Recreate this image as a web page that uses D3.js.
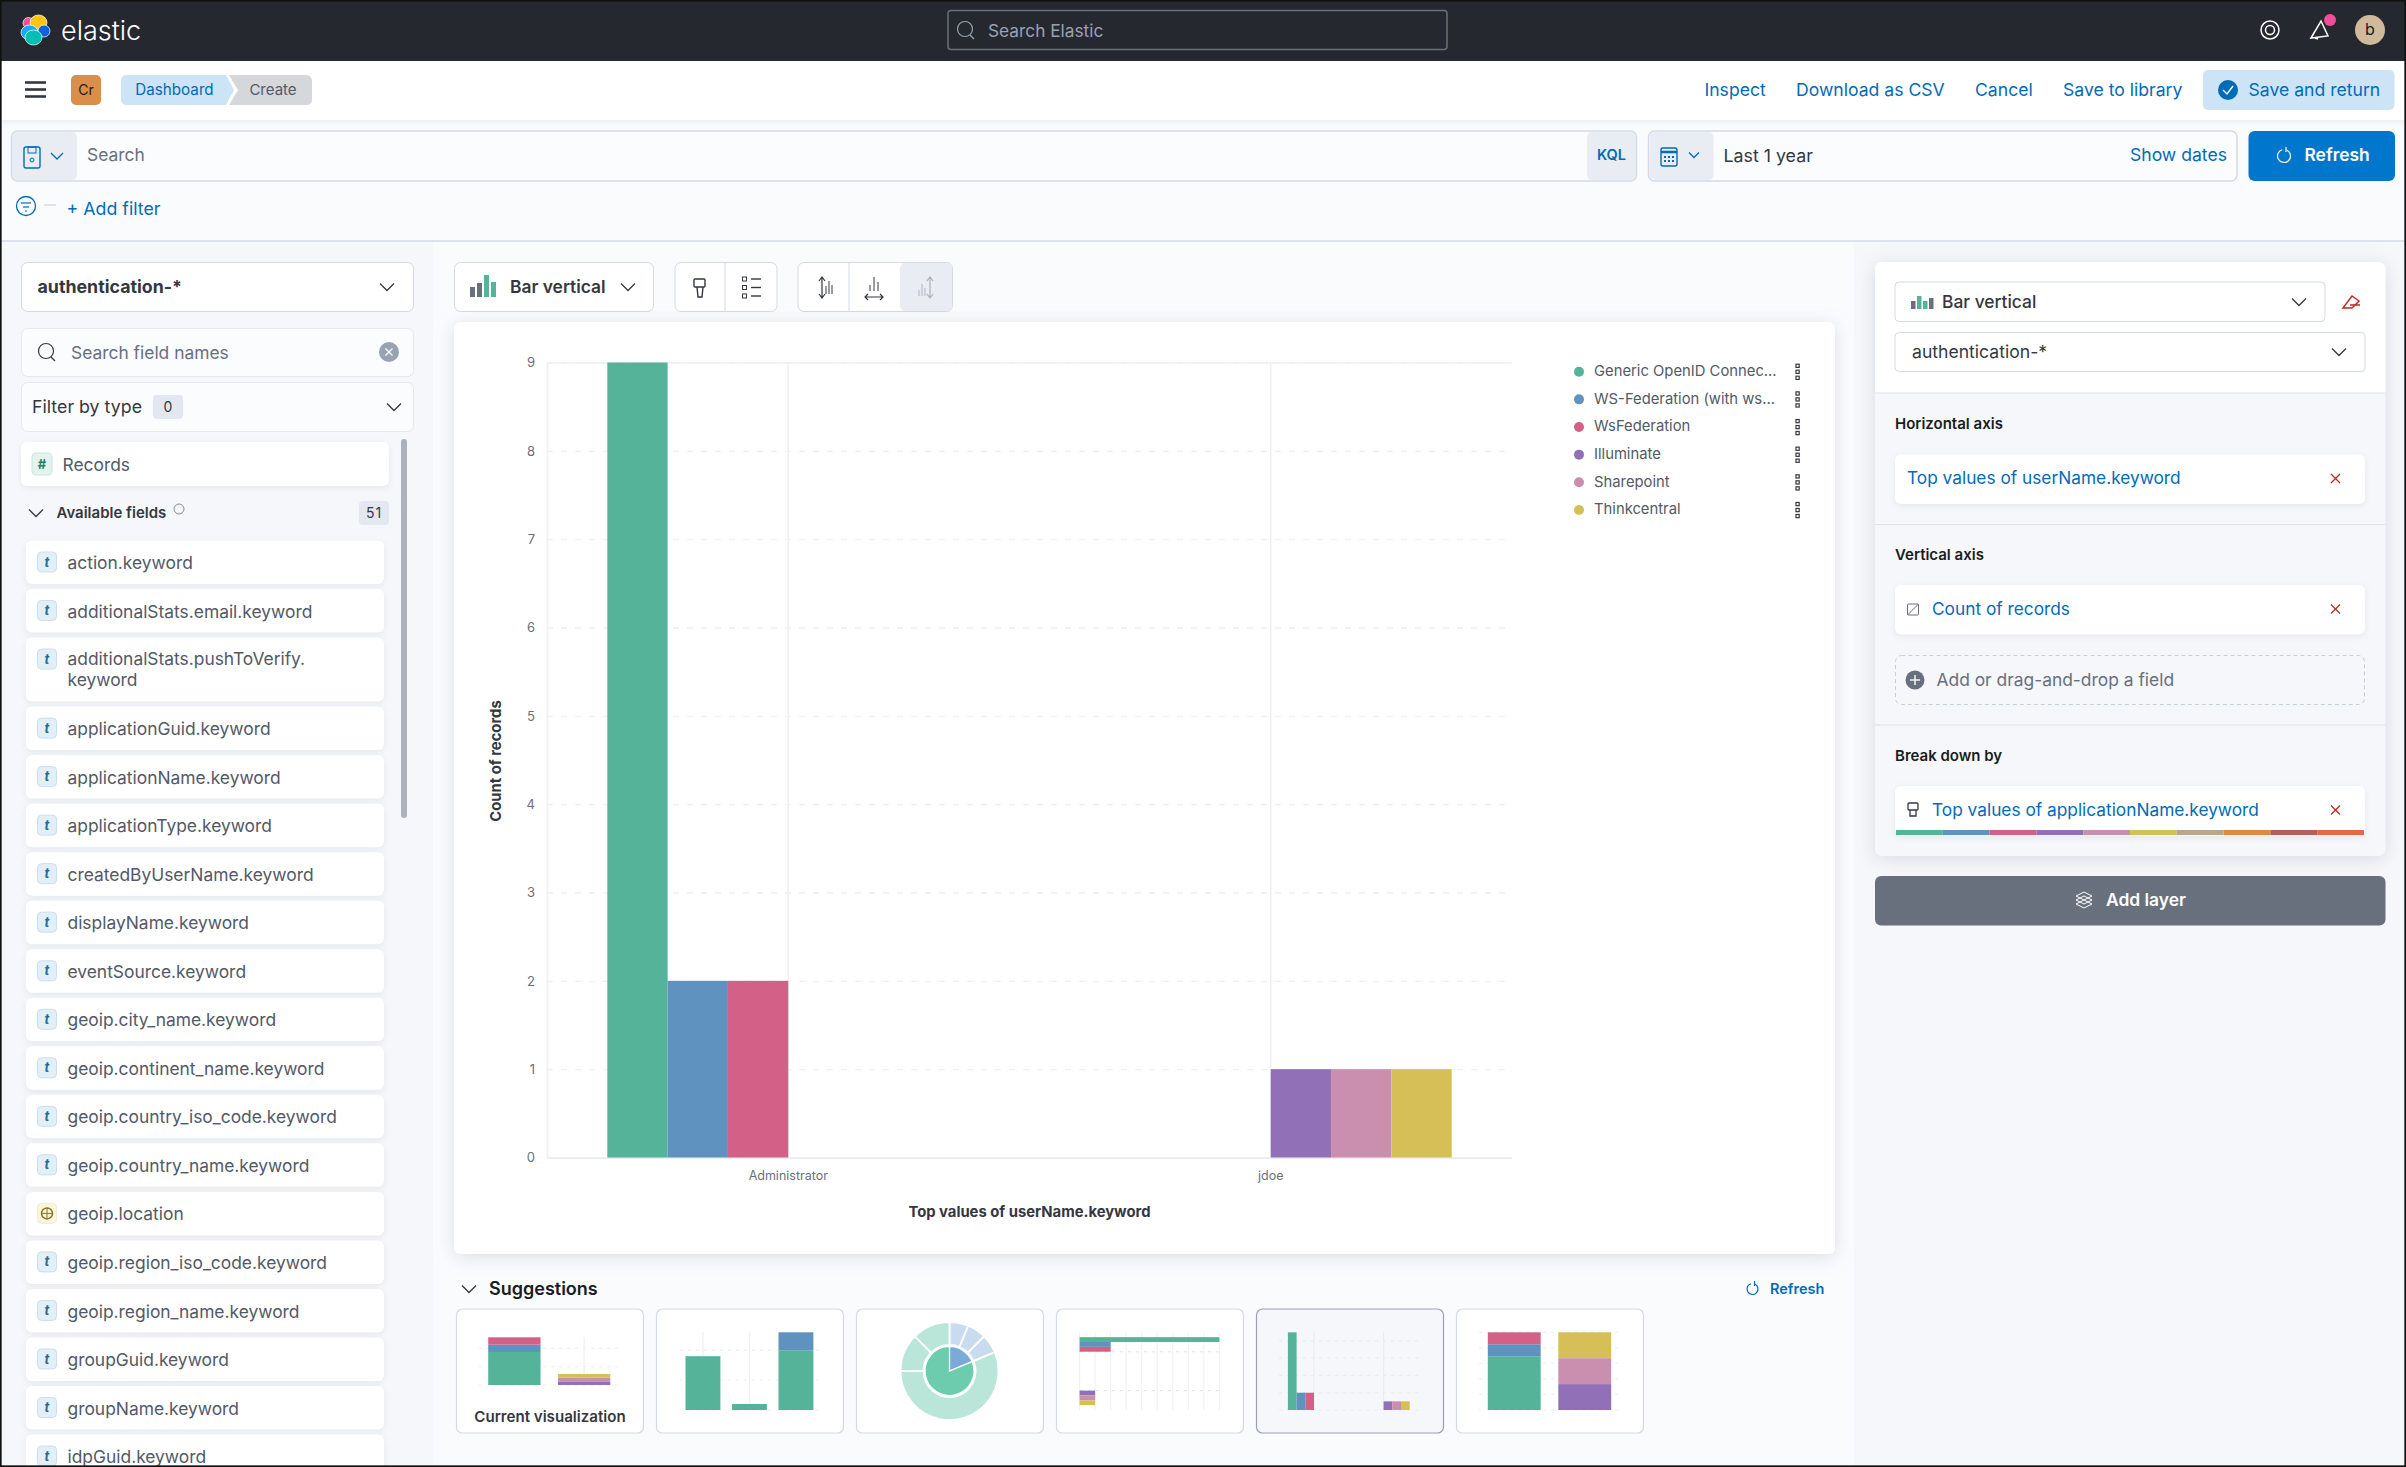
<!DOCTYPE html>
<html>
<head>
<meta charset="utf-8">
<title>Lens - Bar vertical</title>
<script src="https://cdnjs.cloudflare.com/ajax/libs/d3/7.8.5/d3.min.js"></script>
<style>
  html, body { margin: 0; padding: 0; background: #fafbfd; overflow: hidden; }
  svg { display: block; font-family: Inter, "Noto Sans", sans-serif; }
  .shadow { filter: drop-shadow(0 2px 3px rgba(100,110,130,0.11)); }
  .shadowBig { filter: drop-shadow(0 3px 9px rgba(100,110,130,0.2)); }
</style>
</head>
<body>
<svg id="page" width="2406" height="1467"></svg>
<script>
// chart data
const users = ["Administrator", "jdoe"];
const seriesNames = ["Generic OpenID Connec...", "WS-Federation (with ws...", "WsFederation", "Illuminate", "Sharepoint", "Thinkcentral"];
const seriesColors = ["#54B399", "#6092C0", "#D36086", "#9170B8", "#CA8EAE", "#D6BF57"];
const administratorValues = [9, 2, 2, 0, 0, 0];
const jdoeValues = [0, 0, 0, 1, 1, 1];
const yTicks = [0, 1, 2, 3, 4, 5, 6, 7, 8, 9];
const paletteStripe = ["#54B399", "#6092C0", "#D36086", "#9170B8", "#CA8EAE", "#D6BF57", "#B9A888", "#DA8B45", "#AA6556", "#E7664C"];

// suggestion thumbnails
const thumbBarsGreen = [9, 1, 10];
const thumbBarsBlue = [0, 0, 3];
const donutInner = [3, 13];
const donutOuter = [1, 1, 1, 9, 2, 2];

// side panel
const fieldNames = ["action.keyword", "additionalStats.email.keyword", "additionalStats.pushToVerify.keyword",
  "applicationGuid.keyword", "applicationName.keyword", "applicationType.keyword", "createdByUserName.keyword",
  "displayName.keyword", "eventSource.keyword", "geoip.city_name.keyword", "geoip.continent_name.keyword",
  "geoip.country_iso_code.keyword", "geoip.country_name.keyword", "geoip.location", "geoip.region_iso_code.keyword",
  "geoip.region_name.keyword", "groupGuid.keyword", "groupName.keyword", "idpGuid.keyword"];

const BLUE = "#006BB8", DARK = "#343741", GREY = "#69707D", LINE = "#D3DAE6";
const svg = d3.select("#page");
const rows = [administratorValues, jdoeValues];

function txt(g, x, y, s, o = {}) {
  return g.append("text").attr("x", x).attr("y", y + 1).attr("dy", "0.35em")
    .attr("font-size", o.size || 17.4).attr("font-weight", o.weight || 400)
    .attr("fill", o.fill || DARK).attr("text-anchor", o.anchor || "start").text(s);
}
function box(g, x, y, w, h, o = {}) {
  return g.append("rect").attr("x", x).attr("y", y).attr("width", w).attr("height", h)
    .attr("rx", o.r === undefined ? 6 : o.r).attr("fill", o.fill || "#fff")
    .attr("stroke", o.stroke || "none").attr("stroke-width", o.sw || 1)
    .attr("stroke-dasharray", o.dash || null).attr("class", o.cls || null);
}
function line(g, x1, y1, x2, y2, color, w = 1, dash = null) {
  return g.append("line").attr("x1", x1).attr("y1", y1).attr("x2", x2).attr("y2", y2)
    .attr("stroke", color).attr("stroke-width", w).attr("stroke-dasharray", dash);
}
function chevron(g, x, y, color = DARK, s = 7) {
  g.append("path").attr("d", `M${x - s},${y - s / 2}L${x},${y + s / 2}L${x + s},${y - s / 2}`)
    .attr("fill", "none").attr("stroke", color).attr("stroke-width", 1.3);
}
function searchIcon(g, x, y, color) {
  g.append("circle").attr("cx", x).attr("cy", y - 1).attr("r", 7.5).attr("fill", "none").attr("stroke", color).attr("stroke-width", 1.2);
  line(g, x + 5, y + 5, x + 9, y + 9, color, 1.2);
}
function cross(g, x, y, color, s = 4.5) {
  line(g, x - s, y - s, x + s, y + s, color, 1.2);
  line(g, x - s, y + s, x + s, y - s, color, 1.2);
}
function refreshIcon(g, x, y, color, r = 6.5) {
  g.append("path").attr("d", d3.arc()({ innerRadius: r, outerRadius: r, startAngle: 0.5, endAngle: 6 }))
    .attr("transform", `translate(${x},${y})`).attr("fill", "none").attr("stroke", color).attr("stroke-width", 1.2);
  line(g, x + 2, y - r - 2.5, x + 2, y - r + 2.5, color, 1.2);
}
function updown(g, x, y1, y2, color) {
  g.append("path").attr("d", `M${x - 3},${y1 + 4}L${x},${y1}L${x + 3},${y1 + 4}M${x},${y1}L${x},${y2}M${x - 3},${y2 - 4}L${x},${y2}L${x + 3},${y2 - 4}`)
    .attr("fill", "none").attr("stroke", color).attr("stroke-width", 1.2);
}

// ---- page background
box(svg, 0, 241, 433, 1226, { fill: "#f5f7fa", r: 0 });
box(svg, 1854, 241, 552, 1226, { fill: "#f5f7fa", r: 0 });
line(svg, 0, 241, 2406, 241, "#D3DAE6", 1.5);

// ---- dark header
const head = svg.append("g");
box(head, 0, 0, 2406, 61, { fill: "#25282F", r: 0 });
[[28.5, 23, 5.5, 5.5, "#F04E98"], [38.5, 22.5, 8.5, 7.5, "#FEC514"], [29.5, 32.5, 8.5, 7.5, "#1BA9F5"], [44, 31, 6, 6, "#0B64DD"], [33.5, 37.5, 8.5, 7.5, "#00BFB3"]]
  .forEach(d => head.append("ellipse").attr("cx", d[0]).attr("cy", d[1]).attr("rx", d[2]).attr("ry", d[3]).attr("fill", d[4]).attr("stroke", "#fff").attr("stroke-width", 0.7));
txt(head, 61, 30, "elastic", { size: 27, fill: "#fff", weight: 300 });
box(head, 948, 10.5, 499, 39, { fill: "#25282F", stroke: "#6B6F78", sw: 1.5, r: 3 });
searchIcon(head, 965, 30, "#98A2B3");
txt(head, 988, 30, "Search Elastic", { size: 17.3, fill: "#98A2B3" });
head.append("circle").attr("cx", 2270).attr("cy", 30).attr("r", 9).attr("fill", "none").attr("stroke", "#fff").attr("stroke-width", 1.5);
head.append("circle").attr("cx", 2270).attr("cy", 30).attr("r", 4.5).attr("fill", "none").attr("stroke", "#fff").attr("stroke-width", 1.5);
head.append("path").attr("d", "M2311,38L2321,21L2328,36Z M2315,38L2318,39").attr("fill", "none").attr("stroke", "#fff").attr("stroke-width", 1.5);
head.append("circle").attr("cx", 2330).attr("cy", 20).attr("r", 6).attr("fill", "#F04E98");
head.append("circle").attr("cx", 2370).attr("cy", 30).attr("r", 15).attr("fill", "#D0BA9B");
txt(head, 2370, 28, "b", { size: 16, anchor: "middle", fill: "#1a1c21" });

// ---- breadcrumb bar
const sub = svg.append("g");
box(sub, 0, 61, 2406, 59, { fill: "#fff", r: 0, cls: "shadow" });
[82.5, 89.5, 96.5].forEach(y => line(sub, 25, y, 46, y, "#343741", 2.6));
box(sub, 71, 75, 30, 30, { fill: "#DB8E49", r: 5 });
txt(sub, 86, 89, "Cr", { size: 14, anchor: "middle", fill: "#1a1c21" });
sub.append("path").attr("d", "M229,75L306,75Q312,75 312,81L312,99Q312,105 306,105L229,105L238,90Z").attr("fill", "#D5D7DB");
sub.append("path").attr("d", "M127,75L226,75L234,90L226,105L127,105Q121,105 121,99L121,81Q121,75 127,75Z").attr("fill", "#CCE4F5");
txt(sub, 174.5, 89, "Dashboard", { size: 15.2, anchor: "middle", fill: BLUE });
txt(sub, 273, 89, "Create", { size: 15, anchor: "middle", fill: "#535966" });
[["Inspect", 1704.5], ["Download as CSV", 1796], ["Cancel", 1975], ["Save to library", 2063]]
  .forEach(d => txt(sub, d[1], 89, d[0], { size: 17.6, fill: BLUE }));
box(sub, 2203, 70, 191.5, 40, { fill: "#CCE4F5", r: 5 });
sub.append("circle").attr("cx", 2228).attr("cy", 90).attr("r", 10).attr("fill", BLUE);
sub.append("path").attr("d", "M2223,90L2227,94L2233,86").attr("fill", "none").attr("stroke", "#fff").attr("stroke-width", 1.4);
txt(sub, 2248.5, 89, "Save and return", { size: 17.6, fill: BLUE });

// ---- query row
const query = svg.append("g");
box(query, 11.5, 131, 1625, 50, { fill: "#FBFCFD", stroke: LINE, sw: 1.5, r: 6 });
box(query, 12, 132, 65, 48, { fill: "#E9EDF3", r: 5 });
box(query, 1587, 132, 49, 48, { fill: "#E9EDF3", r: 5 });
box(query, 24, 147, 16, 21, { fill: "none", stroke: BLUE, sw: 1.4, r: 2 });
query.append("circle").attr("cx", 32).attr("cy", 160).attr("r", 2).attr("fill", "none").attr("stroke", BLUE);
box(query, 28, 147, 8, 6, { fill: "none", stroke: BLUE, r: 0 });
chevron(query, 57, 156, BLUE, 6);
txt(query, 87, 154, "Search", { fill: GREY });
txt(query, 1611.5, 154, "KQL", { size: 14.5, weight: 600, anchor: "middle", fill: BLUE });
box(query, 1648.5, 131, 588.5, 50, { fill: "#FBFCFD", stroke: LINE, sw: 1.5, r: 6 });
box(query, 1649.5, 132, 64, 48, { fill: "#E9EDF3", r: 5 });
box(query, 1661, 148, 16, 18, { fill: "none", stroke: BLUE, sw: 1.4, r: 2 });
line(query, 1661, 152, 1677, 152, BLUE, 2.5);
[1665, 1669, 1673].forEach(x => [156, 160].forEach(y => box(query, x - 1, y, 2, 2, { fill: BLUE, r: 0 })));
chevron(query, 1694, 155, BLUE, 5);
txt(query, 1723.5, 155, "Last 1 year", { size: 17.8 });
txt(query, 2227, 154, "Show dates", { size: 17.6, anchor: "end", fill: BLUE });
box(query, 2248.5, 131, 146.5, 50, { fill: "#0077CC", r: 6 });
refreshIcon(query, 2284, 156, "#fff");
txt(query, 2304.5, 154, "Refresh", { weight: 600, fill: "#fff" });
query.append("circle").attr("cx", 26).attr("cy", 206).attr("r", 9.5).attr("fill", "none").attr("stroke", BLUE).attr("stroke-width", 1.3);
[[21, 31, 203], [23, 29, 207], [25, 27, 211]].forEach(d => line(query, d[0], d[2], d[1], d[2], BLUE, 1.2));
line(query, 44, 205, 56, 205, LINE, 1.5);
txt(query, 66.5, 208, "+ Add filter", { size: 17.8, fill: BLUE });

// ---- left field list
const side = svg.append("g");
box(side, 21.5, 262.5, 392, 49, { stroke: LINE });
txt(side, 37.5, 286, "authentication-*", { size: 17.8, weight: 700 });
chevron(side, 387, 287);
box(side, 21.5, 328.5, 392, 48, { fill: "#FBFCFD", stroke: "#E3E8F0" });
searchIcon(side, 46, 352, DARK);
txt(side, 71, 352, "Search field names", { fill: GREY });
side.append("circle").attr("cx", 389).attr("cy", 352).attr("r", 10).attr("fill", "#98A2B3");
cross(side, 389, 352, "#fff", 3.5);
box(side, 21.5, 382.5, 392, 49, { fill: "#FBFCFD", stroke: "#E3E8F0" });
txt(side, 32, 406, "Filter by type", { size: 17.8 });
box(side, 153, 395, 30, 24, { fill: "#E3E8F0", r: 4 });
txt(side, 168, 406, "0", { size: 14, anchor: "middle" });
chevron(side, 394, 407);
box(side, 21, 442, 368, 44, { cls: "shadow" });
box(side, 32, 453, 20, 22, { fill: "#E3F4EE", stroke: "#C5E6DA", r: 4 });
txt(side, 42, 463, "#", { size: 13, weight: 700, anchor: "middle", fill: "#2F7E68" });
txt(side, 62.5, 463.5, "Records", { fill: "#535966" });
chevron(side, 36, 513);
txt(side, 56.5, 512, "Available fields", { size: 15, weight: 600 });
side.append("circle").attr("cx", 179).attr("cy", 509).attr("r", 5).attr("fill", "none").attr("stroke", GREY).attr("stroke-width", 0.8);
box(side, 359, 501, 30, 24, { fill: "#E3E8F0", r: 4 });
txt(side, 374, 512, "51", { size: 14, anchor: "middle", fill: DARK }).attr("letter-spacing", 1);
box(side, 401, 439, 6, 379, { fill: "#ABB1BD", r: 3 });

let fieldY = 540.5;
fieldNames.forEach(name => {
  const wrap = name.length > 34;
  const rowH = wrap ? 64 : 43.5;
  box(side, 26, fieldY, 358, rowH, { cls: "shadow" });
  const isGeo = name === "geoip.location";
  const midY = fieldY + 21.5;
  box(side, 37.5, midY - 10, 19, 20, { fill: isGeo ? "#FAF6DE" : "#E3EFF7", stroke: isGeo ? "#F2ECC8" : "#C9DEEE", r: 4 });
  if (isGeo) {
    side.append("circle").attr("cx", 47).attr("cy", midY).attr("r", 5.5).attr("fill", "none").attr("stroke", "#8A7420").attr("stroke-width", 1.5);
    line(side, 41.5, midY, 52.5, midY, "#8A7420", 1);
    line(side, 47, midY - 5.5, 47, midY + 5.5, "#8A7420", 1);
  } else {
    txt(side, 47, midY - 1, "t", { size: 13, weight: 700, anchor: "middle", fill: "#2A6C9A" }).attr("font-style", "italic");
  }
  if (wrap) {
    const cut = name.lastIndexOf(".") + 1;
    txt(side, 67.5, midY - 1, name.slice(0, cut), { fill: "#535966" });
    txt(side, 67.5, midY + 20, name.slice(cut), { fill: "#535966" });
  } else {
    txt(side, 67.5, midY, name, { fill: "#535966" });
  }
  fieldY += rowH + 5.03;
});

// ---- chart toolbar
const tools = svg.append("g");
box(tools, 454.5, 262.5, 199, 49, { stroke: LINE });
[[470, 10, "#69707D"], [477, 14, "#69707D"], [484, 22, "#54B399"], [491, 15, "#54B399"]].forEach(d =>
  box(tools, d[0], 297 - d[1], 5, d[1], { fill: d[2], r: 0 }));
txt(tools, 510, 286, "Bar vertical", { weight: 600 });
chevron(tools, 628, 287);
box(tools, 675, 262.5, 102, 49, { stroke: LINE });
line(tools, 725, 262.5, 725, 311.5, LINE);
box(tools, 798, 262.5, 154.5, 49, { stroke: LINE });
box(tools, 900, 263, 52, 48, { fill: "#E9EDF3", r: 5 });
line(tools, 849, 262.5, 849, 311.5, LINE);
box(tools, 694, 279, 11, 8, { fill: "none", stroke: DARK, sw: 1.4, r: 1 });
tools.append("path").attr("d", "M697,287L698,297L702,297L703,287").attr("fill", "none").attr("stroke", DARK).attr("stroke-width", 1.4);
[279, 287.5, 296].forEach(y => {
  box(tools, 742.5, y - 2, 4, 4, { fill: "none", stroke: DARK, r: 0 });
  line(tools, 751, y, 761, y, DARK, 1.4);
});
updown(tools, 822, 277, 298, DARK);
[[826, 8], [829, 13], [832, 9]].forEach(b => line(tools, b[0], 294 - b[1], b[0], 294, DARK, 1));
[[870, 6], [874, 14], [878, 9]].forEach(b => line(tools, b[0], 291 - b[1], b[0], 291, DARK, 1));
tools.append("path").attr("d", "M868,294L865,297L868,300M865,297L883,297M880,294L883,297L880,300").attr("fill", "none").attr("stroke", DARK).attr("stroke-width", 1.2);
[[919, 6], [922, 12], [925, 8]].forEach(b => line(tools, b[0], 296 - b[1], b[0], 296, "#ABB1BD", 1));
updown(tools, 930, 277, 298, "#ABB1BD");

// ---- main panel with the chart
box(svg, 454, 322, 1381, 932, { cls: "shadowBig" });
const chart = svg.append("g");
const plot = { left: 547, right: 1512, top: 362.5, bottom: 1157.5 };

const x0 = d3.scaleBand().domain(users).range([plot.left, plot.right]);
const x1 = d3.scaleBand().domain(seriesNames).range([0, x0.bandwidth()]).paddingInner(0).paddingOuter(1);
const y = d3.scaleLinear().domain([0, d3.max(yTicks)]).range([plot.bottom, plot.top]);

const yGrid = chart.append("g").attr("transform", `translate(${plot.left},0)`)
  .call(d3.axisLeft(y).tickValues(yTicks).tickSize(-(plot.right - plot.left)).tickFormat(""));
yGrid.select(".domain").attr("stroke", "#EEF0F4").attr("stroke-width", 1.5);
yGrid.selectAll(".tick line").attr("stroke", "#EEF0F4").attr("stroke-width", 1.3).attr("stroke-dasharray", "6 8");
yGrid.selectAll(".tick").filter(d => d === 0).select("line").attr("stroke", "#E9EDF3").attr("stroke-dasharray", null).attr("stroke-width", 1.5);

users.forEach(u => {
  const cx = x0(u) + x0.bandwidth() / 2;
  line(chart, cx, plot.top, cx, plot.bottom, "#EEF0F4", 1.5);
});

chart.append("g").selectAll("g").data(users).enter().append("g")
  .attr("transform", d => `translate(${x0(d)},0)`)
  .each(function (u, i) {
    d3.select(this).selectAll("rect")
      .data(seriesNames.map((s, k) => ({ s, v: rows[i][k], c: seriesColors[k] })).filter(d => d.v > 0))
      .enter().append("rect")
      .attr("x", d => x1(d.s)).attr("width", x1.bandwidth())
      .attr("y", d => y(d.v)).attr("height", d => y(0) - y(d.v))
      .attr("fill", d => d.c);
  });

const yAxis = chart.append("g").attr("transform", `translate(${plot.left},0)`)
  .call(d3.axisLeft(y).tickValues(yTicks).tickSize(0).tickPadding(12).tickFormat(d3.format("d")));
yAxis.select(".domain").remove();
yAxis.selectAll("text").attr("font-size", 13).attr("font-family", "Inter").attr("fill", "#69707D");

const xAxis = chart.append("g").attr("transform", `translate(0,${plot.bottom})`)
  .call(d3.axisBottom(x0).tickSize(0).tickPadding(13.5));
xAxis.select(".domain").remove();
xAxis.selectAll("text").attr("font-size", 12.5).attr("font-family", "Inter").attr("fill", "#69707D");

txt(chart, 1029.5, 1211, "Top values of userName.keyword", { size: 14.8, weight: 700, anchor: "middle" });
txt(chart, -1, 0, "Count of records", { size: 14.8, weight: 700, anchor: "middle" })
  .attr("transform", "translate(495,760) rotate(-90)");

// legend
const legend = chart.append("g").selectAll("g").data(seriesNames).enter().append("g")
  .attr("transform", (d, i) => `translate(1579,${371.7 + i * 27.65})`);
legend.append("circle").attr("r", 5).attr("fill", (d, i) => seriesColors[i]);
legend.append("text").attr("x", 15).attr("dy", "0.3em").attr("font-size", 14.8).attr("fill", "#535966").text(d => d);
legend.each(function () {
  const g = d3.select(this);
  [-6, 0, 6].forEach(dy => g.append("rect").attr("x", 217).attr("y", dy - 1.5).attr("width", 3.2).attr("height", 3.2)
    .attr("fill", "none").attr("stroke", "#343741").attr("stroke-width", 1.2));
});

// ---- right config panel
const cfg = svg.append("g");
box(cfg, 1875, 262, 510.5, 594, { fill: "#F5F7FA", r: 7, cls: "shadowBig" });
cfg.append("path").attr("d", "M1875,393L1875,269Q1875,262 1882,262L2378,262Q2385.5,262 2385.5,269L2385.5,393Z").attr("fill", "#fff");
box(cfg, 1895, 282, 430, 39.5, { stroke: LINE, r: 4 });
[[1911, 8, GREY], [1917, 13, "#54B399"], [1923, 8, "#54B399"], [1929, 11, GREY]].forEach(d => box(cfg, d[0], 309 - d[1], 4.5, d[1], { fill: d[2], r: 0 }));
txt(cfg, 1942, 300.5, "Bar vertical", { weight: 500 });
chevron(cfg, 2299, 302);
cfg.append("path").attr("d", "M2343,308L2352,296L2359,301L2352,308Z M2350,305L2360,305").attr("fill", "none").attr("stroke", "#BD271E").attr("stroke-width", 1.4);
box(cfg, 1895, 332.5, 470, 39, { stroke: LINE, r: 4 });
txt(cfg, 1912, 350.5, "authentication-*", { size: 17.6 });
chevron(cfg, 2339, 352);
[393, 524.5, 725].forEach(yy => line(cfg, 1875, yy, 2385.5, yy, "#DDE2EB", 1.2));
[["Horizontal axis", 422.5], ["Vertical axis", 554], ["Break down by", 754.5]].forEach(d =>
  txt(cfg, 1895, d[1], d[0], { size: 15, weight: 600, fill: "#1A1C21" }));
[[454.5, "Top values of userName.keyword", 1907], [585, "Count of records", 1932], [786, "Top values of applicationName.keyword", 1932]].forEach(d => {
  box(cfg, 1895, d[0], 470, 49.5, { cls: "shadow", r: 6 });
  txt(cfg, d[2], d[0] + 22.5, d[1], { size: 17.3, fill: BLUE });
  cross(cfg, 2335.5, d[0] + 24, "#BD271E");
});
box(cfg, 1907.5, 604, 11, 11, { fill: "none", stroke: GREY, r: 1 });
line(cfg, 1907.5, 615, 1918.5, 604, GREY, 1);
box(cfg, 1908, 803, 10, 7, { fill: "none", stroke: DARK, sw: 1.3, r: 1 });
cfg.append("path").attr("d", "M1910,810L1910,816L1916,816L1916,810").attr("fill", "none").attr("stroke", DARK).attr("stroke-width", 1.3);
const stripe = d3.scaleBand().domain(paletteStripe).range([1896, 2364]);
cfg.append("g").selectAll("rect").data(paletteStripe).enter().append("rect")
  .attr("x", d => stripe(d)).attr("y", 830).attr("width", stripe.bandwidth()).attr("height", 5).attr("fill", d => d);
box(cfg, 1895.5, 655.5, 469, 49, { fill: "none", stroke: "#C7CEDB", dash: "4 3", r: 6 });
cfg.append("circle").attr("cx", 1915).attr("cy", 680).attr("r", 9.5).attr("fill", GREY);
line(cfg, 1910, 680, 1920, 680, "#fff", 1.4);
line(cfg, 1915, 675, 1915, 685, "#fff", 1.4);
txt(cfg, 1936.5, 679, "Add or drag-and-drop a field", { fill: GREY });
box(cfg, 1875, 876, 510.5, 49.5, { fill: "#69707D", r: 6 });
[896, 900, 904].forEach(d => cfg.append("path")
  .attr("d", `M2076,${d}L2084,${d - 4}L2092,${d}L2084,${d + 4}Z`).attr("fill", "none").attr("stroke", "#fff"));
txt(cfg, 2106, 899, "Add layer", { weight: 600, fill: "#fff" });

// ---- suggestions
const sug = svg.append("g");
chevron(sug, 469, 1289);
txt(sug, 489, 1288, "Suggestions", { size: 18, weight: 600, fill: "#1A1C21" });
refreshIcon(sug, 1752.5, 1289, BLUE, 5.5);
txt(sug, 1770, 1288, "Refresh", { size: 14.5, weight: 600, fill: BLUE });

const cardLefts = [456.5, 656.5, 856.5, 1056.5, 1256.5, 1456.5];
cardLefts.forEach((cx, i) => box(sug, cx, 1309, 187, 124, { stroke: i === 4 ? "#98A2B3" : "#D3DAE6", fill: i === 4 ? "#F5F7FA" : "#fff", sw: 1.2 }));
txt(sug, 550, 1416, "Current visualization", { size: 15.1, weight: 600, anchor: "middle" });

const TOP = 1332.3, BOT = 1410;
const stackTable = users.map((u, i) => {
  const row = { user: u };
  seriesNames.forEach((s, k) => { row[s] = rows[i][k]; });
  return row;
});
const stackedSeries = d3.stack().keys(seriesNames)(stackTable);

function dashes(g, x1, x2, ys, color = "#EDF0F4") {
  ys.forEach(v => line(g, x1, v, x2, v, color, 1.2, "3 5"));
}

// thumb 1: stacked bars
{
  const g = sug.append("g");
  const tx = d3.scaleBand().domain(users).range([479.5, 619]).paddingInner(0.25).paddingOuter(0.125);
  const ty = d3.scaleLinear().domain([0, 13]).range([1385, 1337.3]);
  dashes(g, 479, 619, [0, 5, 10].map(ty));
  users.forEach(u => line(g, tx(u) + tx.bandwidth() / 2, 1337, tx(u) + tx.bandwidth() / 2, 1385, "#EDF0F4", 1.3));
  stackedSeries.forEach((layer, k) => {
    g.append("g").selectAll("rect").data(layer.filter(d => d[1] > d[0])).enter().append("rect")
      .attr("x", d => tx(d.data.user)).attr("width", tx.bandwidth())
      .attr("y", d => ty(d[1])).attr("height", d => ty(d[0]) - ty(d[1])).attr("fill", seriesColors[k]);
  });
}

// thumb 2: three stacked columns
{
  const g = sug.append("g");
  const idx = d3.range(thumbBarsGreen.length);
  const tx = d3.scaleBand().domain(idx).range([679.7, 819.2]).paddingInner(0.25).paddingOuter(0.125);
  const ty = d3.scaleLinear().domain([0, 13]).range([BOT, TOP]);
  dashes(g, 680, 819, [0, 5, 10].map(ty));
  idx.forEach(i => line(g, tx(i) + tx.bandwidth() / 2, TOP, tx(i) + tx.bandwidth() / 2, BOT, "#EDF0F4", 1.3));
  g.append("g").selectAll("rect").data(thumbBarsGreen).enter().append("rect")
    .attr("x", (d, i) => tx(i)).attr("width", tx.bandwidth())
    .attr("y", d => ty(d)).attr("height", d => BOT - ty(d)).attr("fill", seriesColors[0]);
  g.append("g").selectAll("rect").data(thumbBarsBlue).enter().append("rect")
    .attr("x", (d, i) => tx(i)).attr("width", tx.bandwidth())
    .attr("y", (d, i) => ty(thumbBarsGreen[i] + d)).attr("height", (d, i) => ty(thumbBarsGreen[i]) - ty(thumbBarsGreen[i] + d))
    .attr("fill", seriesColors[1]);
}

// thumb 3: sunburst
{
  const g = sug.append("g").attr("transform", "translate(949.5,1371)");
  const pie = d3.pie().sort(null).value(d => d);
  const inner = d3.arc().innerRadius(0).outerRadius(24.5);
  const outer = d3.arc().innerRadius(26).outerRadius(49);
  g.selectAll(".o").data(pie(donutOuter)).enter().append("path").attr("d", outer)
    .attr("fill", (d, i) => i < 3 ? "#C9DBEF" : "#B9E6D8").attr("stroke", "#fff").attr("stroke-width", 1.8);
  g.selectAll(".i").data(pie(donutInner)).enter().append("path").attr("d", inner)
    .attr("fill", (d, i) => i === 0 ? "#7BA9D8" : "#6DCBAE").attr("stroke", "#fff").attr("stroke-width", 1.2);
}

// thumb 4: horizontal grouped
{
  const g = sug.append("g");
  const ty0 = d3.scaleBand().domain(users).range([TOP, BOT]);
  const ty1 = d3.scaleBand().domain(seriesNames).range([0, ty0.bandwidth()]).paddingInner(0).paddingOuter(1);
  const tx = d3.scaleLinear().domain([0, 9]).range([1079.6, 1219.4]);
  d3.range(0, 10).forEach(v => line(g, tx(v), TOP, tx(v), BOT, "#EFF1F5", 1.1));
  dashes(g, 1080, 1219, users.map(u => ty0(u) + ty0.bandwidth() / 2), "#E4E8EE");
  users.forEach((u, i) => {
    g.append("g").selectAll("rect")
      .data(seriesNames.map((s, k) => ({ s, v: rows[i][k], c: seriesColors[k] })).filter(d => d.v > 0)).enter().append("rect")
      .attr("x", tx(0)).attr("width", d => tx(d.v) - tx(0))
      .attr("y", d => ty0(u) + ty1(d.s)).attr("height", ty1.bandwidth()).attr("fill", d => d.c);
  });
}

// thumb 5: vertical grouped, selected
{
  const g = sug.append("g");
  const tx0 = d3.scaleBand().domain(users).range([1279.2, 1418.4]);
  const tx1 = d3.scaleBand().domain(seriesNames).range([0, tx0.bandwidth()]).paddingInner(0).paddingOuter(1);
  const ty = d3.scaleLinear().domain([0, 9]).range([BOT, TOP]);
  dashes(g, 1279, 1418, [0, 2, 4, 6, 8].map(ty), "#E9ECF1");
  users.forEach((u, i) => {
    const c = tx0(u) + tx0.bandwidth() / 2;
    line(g, c, TOP, c, BOT, "#E9ECF1", 1.2);
    g.append("g").selectAll("rect")
      .data(seriesNames.map((s, k) => ({ s, v: rows[i][k], c: seriesColors[k] })).filter(d => d.v > 0)).enter().append("rect")
      .attr("x", d => tx0(u) + tx1(d.s)).attr("width", tx1.bandwidth())
      .attr("y", d => ty(d.v)).attr("height", d => BOT - ty(d.v)).attr("fill", d => d.c);
  });
}

// thumb 6: percent stacked
{
  const g = sug.append("g");
  const pct = d3.stack().keys(seriesNames).offset(d3.stackOffsetExpand)(stackTable);
  const tx = d3.scaleBand().domain(users).range([1479, 1620]).paddingInner(0.25).paddingOuter(0.125);
  const ty = d3.scaleLinear().domain([0, 1]).range([BOT, TOP]);
  dashes(g, 1479, 1620, [0, 0.2, 0.4, 0.6, 0.8, 1].map(ty));
  pct.forEach((layer, k) => {
    g.append("g").selectAll("rect").data(layer.filter(d => d[1] > d[0])).enter().append("rect")
      .attr("x", d => tx(d.data.user)).attr("width", tx.bandwidth())
      .attr("y", d => ty(d[1])).attr("height", d => ty(d[0]) - ty(d[1])).attr("fill", seriesColors[k]);
  });
}

// window frame of the screenshot
svg.append("rect").attr("x", 0.75).attr("y", 0.75).attr("width", 2404.5).attr("height", 1465.5)
  .attr("fill", "none").attr("stroke", "#111").attr("stroke-width", 1.8);
</script>
</body>
</html>
